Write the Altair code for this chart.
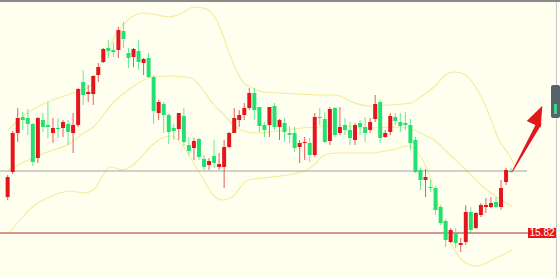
import altair as alt
import pandas as pd

# Daily candles (price units)
opens = [16.18, 16.43, 16.82, 16.98, 16.97, 16.91, 16.57, 16.95, 16.90, 16.82,
         16.87, 16.87, 16.91, 16.82, 16.90, 17.33, 17.21, 17.21, 17.40, 17.53,
         17.67, 17.65, 17.65, 17.84, 17.62, 17.58, 17.64, 17.52, 17.57, 17.38,
         17.02, 17.11, 17.00, 16.87, 16.86, 16.99, 16.70, 16.67, 16.76, 16.56,
         16.50, 16.59, 16.48, 16.48, 16.68, 16.82, 16.95, 17.00, 17.07, 17.22,
         17.08, 16.90, 16.90, 17.09, 16.88, 16.92, 16.82, 16.82, 16.68, 16.72,
         16.72, 16.60, 16.98, 16.96, 16.74, 17.07, 16.82, 16.90, 16.85, 16.75,
         16.92, 16.88, 16.85, 16.96, 17.13, 16.78, 16.83, 16.98, 16.93, 16.92,
         16.90, 16.75, 16.45, 16.35, 16.28, 16.27, 16.08, 15.94, 15.73, 15.82,
         15.70, 15.73, 16.03, 15.87, 16.00, 16.08, 16.08, 16.13, 16.08, 16.33,
         16.44]
closes = [16.38, 16.82, 16.97, 16.95, 16.91, 16.53, 16.97, 16.88, 16.88, 16.87,
          16.86, 16.93, 16.83, 16.90, 17.26, 17.20, 17.23, 17.39, 17.48, 17.66,
          17.64, 17.63, 17.85, 17.76, 17.57, 17.66, 17.53, 17.56, 17.38, 17.04,
          17.13, 17.00, 16.83, 16.84, 17.02, 16.73, 16.64, 16.74, 16.58, 16.48,
          16.54, 16.52, 16.51, 16.68, 16.82, 16.97, 17.00, 17.07, 17.22, 17.05,
          16.89, 16.85, 17.08, 16.88, 16.95, 16.83, 16.80, 16.67, 16.72, 16.73,
          16.60, 16.98, 16.97, 16.73, 17.06, 16.80, 16.88, 16.85, 16.77, 16.90,
          16.88, 16.82, 16.93, 17.11, 16.77, 16.82, 16.99, 16.94, 16.89, 16.90,
          16.72, 16.43, 16.35, 16.38, 16.27, 16.05, 15.92, 15.75, 15.85, 15.72,
          15.72, 16.03, 15.85, 16.02, 16.10, 16.10, 16.12, 16.08, 16.27, 16.45,
          16.43]
highs = [16.40, 16.84, 17.07, 17.03, 17.06, 16.92, 16.98, 17.02, 17.13, 16.97,
         16.97, 16.95, 16.95, 17.02, 17.27, 17.45, 17.30, 17.40, 17.52, 17.67,
         17.75, 17.73, 17.88, 17.93, 17.67, 17.67, 17.75, 17.57, 17.62, 17.40,
         17.15, 17.13, 17.02, 16.91, 17.02, 17.07, 16.78, 16.77, 16.77, 16.60,
         16.57, 16.75, 16.62, 16.75, 16.83, 17.07, 17.05, 17.12, 17.27, 17.27,
         17.08, 16.93, 17.08, 17.12, 16.96, 16.97, 16.89, 16.88, 16.75, 16.78,
         16.77, 17.02, 17.07, 17.03, 17.08, 17.08, 17.08, 16.97, 16.93, 16.92,
         16.95, 16.98, 16.97, 17.20, 17.15, 16.85, 17.02, 17.02, 17.02, 17.03,
         16.96, 16.78, 16.47, 16.46, 16.35, 16.29, 16.10, 15.96, 15.87, 15.87,
         15.77, 16.10, 16.08, 16.03, 16.12, 16.17, 16.18, 16.18, 16.35, 16.47,
         16.47]
lows = [16.15, 16.41, 16.73, 16.85, 16.80, 16.49, 16.52, 16.83, 16.77, 16.72,
        16.77, 16.78, 16.70, 16.62, 16.88, 17.10, 17.13, 17.10, 17.33, 17.52,
        17.57, 17.58, 17.57, 17.67, 17.47, 17.48, 17.45, 17.40, 17.37, 16.91,
        16.95, 16.82, 16.71, 16.75, 16.75, 16.69, 16.60, 16.55, 16.55, 16.45,
        16.45, 16.47, 16.45, 16.27, 16.67, 16.82, 16.88, 16.95, 17.05, 16.95,
        16.83, 16.78, 16.78, 16.85, 16.75, 16.73, 16.72, 16.63, 16.52, 16.55,
        16.53, 16.58, 16.90, 16.72, 16.70, 16.78, 16.80, 16.80, 16.70, 16.70,
        16.80, 16.73, 16.82, 16.93, 16.72, 16.77, 16.80, 16.90, 16.83, 16.85,
        16.65, 16.42, 16.25, 16.18, 16.23, 16.00, 15.90, 15.68, 15.72, 15.67,
        15.63, 15.70, 15.82, 15.86, 15.98, 16.02, 16.07, 16.07, 16.05, 16.30,
        16.42]

# Bollinger band traces: (bar index, price)
upper_i = [0.1, 3.4, 7.9, 11.2, 13.5, 16.4, 18.0, 19.0, 20.9, 22.9, 25.4, 26.8,
           29.7, 32.1, 34.6, 37.1, 39.5, 41.8, 44.3, 46.9, 48.2, 50.8, 54.1, 57.4,
           62.5, 65.2, 68.3, 71.7, 75.6, 80.1, 82.0, 84.7, 87.3, 88.8, 91.2, 93.1,
           95.1, 97.6, 99.6, 100.9]
upper_v = [16.85, 17.00, 17.13, 17.19, 17.23, 17.29, 17.45, 17.55, 17.75, 17.90,
           18.00, 18.02, 18.00, 17.98, 18.02, 18.08, 18.06, 17.92, 17.58, 17.32,
           17.28, 17.23, 17.22, 17.21, 17.20, 17.20, 17.13, 17.09, 17.10, 17.12,
           17.18, 17.28, 17.41, 17.43, 17.39, 17.27, 17.07, 16.75, 16.60, 16.48]
mid_i = [0.1, 2.8, 7.9, 12.5, 15.1, 17.0, 20.9, 24.8, 28.7, 32.6, 36.5, 38.5,
         41.0, 42.4, 44.9, 46.3, 49.6, 52.1, 58.6, 61.9, 65.2, 70.7, 77.5, 79.5,
         82.8, 84.7, 87.3, 90.6, 94.5, 98.0, 100.3]
mid_v = [16.45, 16.52, 16.63, 16.72, 16.82, 16.88, 17.12, 17.28, 17.38, 17.39,
         17.37, 17.27, 17.10, 17.03, 16.90, 16.85, 16.82, 16.83, 16.87, 16.88,
         16.90, 16.87, 16.88, 16.87, 16.80, 16.75, 16.63, 16.47, 16.28, 16.15,
         16.08]
lower_i = [0.4, 2.8, 4.7, 7.9, 12.5, 15.1, 17.0, 20.4, 22.9, 25.4, 28.7, 30.7,
           32.6, 34.6, 37.9, 41.0, 42.4, 44.3, 47.7, 50.8, 55.5, 59.4, 61.3, 62.5,
           65.2, 71.7, 76.1, 79.5, 81.4, 83.4, 85.3, 87.3, 88.8, 90.2, 93.1, 97.0,
           100.3]
lower_v = [15.83, 15.97, 16.07, 16.17, 16.24, 16.22, 16.25, 16.48, 16.45, 16.52,
           16.70, 16.77, 16.79, 16.70, 16.44, 16.19, 16.15, 16.17, 16.35, 16.37,
           16.40, 16.45, 16.52, 16.59, 16.62, 16.62, 16.65, 16.69, 16.63, 16.45,
           16.15, 15.80, 15.65, 15.55, 15.49, 15.57, 15.65]

ref_price = 16.44      # grey reference level
support_price = 15.82  # red support level

# Trend arrow: tapered shaft plus head
shaft_i = [100.3, 105.5]
shaft_v = [16.44, 16.91]
shaft_w = [1.0, 5.0]
head_i = [105.35]
head_v = [17.00]

RED = "#e3161c"
GREEN = "#25e070"
BG = "#fffff0"

xs = alt.Scale(domain=[-0.527, 108.72], nice=False, zero=False)
ys = alt.Scale(domain=[15.37, 18.15], nice=False, zero=False)

candles = pd.DataFrame({
    "i": list(range(len(opens))),
    "open": opens, "close": closes, "high": highs, "low": lows,
})
candles["dir"] = ["up" if c >= o else "down" for o, c in zip(opens, closes)]

bands = pd.concat([
    pd.DataFrame({"band": "upper", "i": upper_i, "v": upper_v}),
    pd.DataFrame({"band": "mid", "i": mid_i, "v": mid_v}),
    pd.DataFrame({"band": "lower", "i": lower_i, "v": lower_v}),
])

col = alt.Color("dir:N", scale=alt.Scale(domain=["up", "down"], range=[RED, GREEN]), legend=None)

base = alt.Chart(candles)
wicks = base.mark_rule(strokeWidth=1, opacity=0.7).encode(
    x=alt.X("i:Q", scale=xs, axis=None),
    y=alt.Y("low:Q", scale=ys, axis=None),
    y2="high:Q",
    color=col,
)
bodies = base.mark_bar(size=4).encode(
    x=alt.X("i:Q", scale=xs, axis=None),
    y=alt.Y("open:Q", scale=ys, axis=None),
    y2="close:Q",
    color=col,
)

band_lines = alt.Chart(bands).mark_line(
    interpolate="monotone", strokeWidth=1.1, color="#f1e88a", opacity=0.85
).encode(
    x=alt.X("i:Q", scale=xs, axis=None),
    y=alt.Y("v:Q", scale=ys, axis=None),
    detail="band:N",
)

levels = pd.DataFrame({"v": [ref_price]})
ref_rule = alt.Chart(levels).mark_rule(color="#a4a4a4", strokeWidth=1).encode(
    x=alt.value(0), x2=alt.value(527),
    y=alt.Y("v:Q", scale=ys, axis=None),
)

sup = pd.DataFrame({"v": [support_price], "top": [support_price + 0.05],
                    "bot": [support_price - 0.05], "label": [f"{support_price:.2f}"]})
sup_rule = alt.Chart(sup).mark_rule(color="#d4948f", strokeWidth=2).encode(
    x=alt.value(0), x2=alt.value(528),
    y=alt.Y("v:Q", scale=ys, axis=None),
)
sup_box = alt.Chart(sup).mark_rect(color="#e8161a").encode(
    x=alt.value(528), x2=alt.value(556),
    y=alt.Y("top:Q", scale=ys, axis=None), y2="bot:Q",
)
sup_text = alt.Chart(sup).mark_text(
    color="white", fontSize=10, font="Liberation Sans", align="center", baseline="middle"
).encode(
    x=alt.value(542),
    y=alt.Y("v:Q", scale=ys, axis=None),
    text="label:N",
)

shaft = alt.Chart(pd.DataFrame({"i": shaft_i, "v": shaft_v, "w": shaft_w})).mark_trail(
    color=RED
).encode(
    x=alt.X("i:Q", scale=xs, axis=None),
    y=alt.Y("v:Q", scale=ys, axis=None),
    size=alt.Size("w:Q", scale=alt.Scale(domain=[1, 5], range=[1, 5]), legend=None),
)
head = alt.Chart(pd.DataFrame({"i": head_i, "v": head_v})).mark_point(
    shape="M0,-1L0.75,1L-0.75,1Z", filled=True, color=RED, opacity=1,
    size=420, angle=25,
).encode(
    x=alt.X("i:Q", scale=xs, axis=None),
    y=alt.Y("v:Q", scale=ys, axis=None),
)

# Window chrome: top border, right edge and side tab
frame = pd.DataFrame({"k": [0]})
top_border = alt.Chart(frame).mark_rule(color="#8a8a8a", strokeWidth=2).encode(
    x=alt.value(0), x2=alt.value(560), y=alt.value(1))
right_edge = alt.Chart(frame).mark_rule(color="#c8c8c8", strokeWidth=1).encode(
    x=alt.value(556.5), y=alt.value(2), y2=alt.value(278))
tab = alt.Chart(frame).mark_rect(color="#59626c", cornerRadius=2).encode(
    x=alt.value(551), x2=alt.value(560), y=alt.value(85), y2=alt.value(118))
tab_mark = alt.Chart(frame).mark_rect(color="#3fd47f").encode(
    x=alt.value(554), x2=alt.value(557), y=alt.value(104), y2=alt.value(114))

chart = alt.layer(
    band_lines, ref_rule, sup_rule, wicks, bodies, shaft, head,
    sup_box, sup_text, top_border, right_edge, tab, tab_mark,
).properties(
    width=560, height=278, autosize=alt.AutoSizeParams(type="none"), padding=0,
    background=BG,
).configure_view(strokeWidth=0)

chart.save("out.html", embed_options={"renderer": "svg", "actions": False})
